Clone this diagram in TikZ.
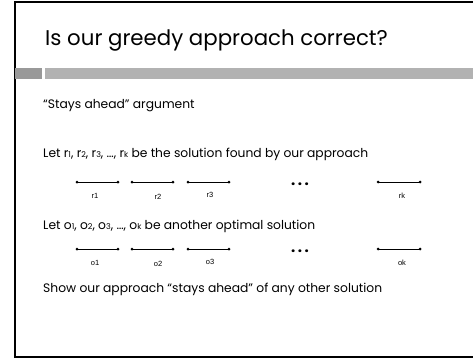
\documentclass[tikz,border=0pt]{standalone}
\usepackage{fontspec}
\setmainfont{Poppins}
\newfontfamily\labfont{Liberation Sans}
\usetikzlibrary{positioning}

\definecolor{bardark}{HTML}{999999}
\definecolor{barlight}{HTML}{B2B2B2}
\newcommand{\sm}[1]{{\fontsize{8}{8}\selectfont #1}}

\begin{document}
\begin{tikzpicture}[
      x=1pt, y=-1pt,
      txt/.style={anchor=base west, inner sep=0pt, font=\fontsize{12.3}{14}\selectfont},
      endpt/.style={circle, fill, inner sep=0pt, minimum size=3pt},
      seg/.style={line width=0.6pt},
      slab/.style={font=\labfont\fontsize{7.5}{8}\selectfont, inner sep=0pt},
      dots/.style={font=\bfseries\fontsize{15}{15}\selectfont, inner sep=0pt}]
      \useasboundingbox (0,0) rectangle (473,359);
      % slide frame and title bar
      \draw[line width=2pt] (473,2) -- (15,2) -- (15,357) -- (473,357);
      \fill[bardark] (15,68) rectangle (42,79);
      \fill[barlight] (45,68) rectangle (473,79);
      \node[anchor=base west, inner sep=0pt, font=\fontsize{21.3}{24}\selectfont]
        (title) at (45,45) {Is our greedy approach correct?};
      % text lines
      \node[txt] (stays) at (43,108) {“Stays ahead” argument};
      \node[txt] (letr) at (43,157) {Let r\sm{1}, r\sm{2}, r\sm{3}, …, r\sm{k} be the solution found by our approach};
      \node[txt] (leto) at (43,229) {Let o\sm{1}, o\sm{2}, o\sm{3}, …, o\sm{k} be another optimal solution};
      \node[txt] (show) at (43,292) {Show our approach “stays ahead” of any other solution};
      % the two rows of intervals
      \foreach \row/\y/\ly in {r/182/196, o/249/263} {
        \node[endpt] (\row1a) at (77,\y) {};  \node[endpt] (\row1b) at (118,\y) {};
        \node[endpt] (\row2a) at (132,\y) {}; \node[endpt] (\row2b) at (173,\y) {};
        \node[endpt] (\row3a) at (188,\y) {}; \node[endpt] (\row3b) at (229,\y) {};
        \node[endpt] (\row ka) at (378,\y) {}; \node[endpt] (\row kb) at (420,\y) {};
        \draw[seg] (\row1a.center) -- (\row1b.center);
        \draw[seg] (\row2a.center) -- (\row2b.center);
        \draw[seg] (\row3a.center) -- (\row3b.center);
        \draw[seg] (\row ka.center) -- (\row kb.center);
        \node[slab] (\row1l) at (95,\ly) {\row1};
        \node[slab] (\row2l) at (158,\ly+1) {\row2};
        \node[slab] (\row3l) at (210,\ly-1) {\row3};
        \node[slab] (\row kl) at (402,\ly) {\row k};
        \node[dots] (\row dots) at (300,\y+2) {.\,.\,.};
      }
    \end{tikzpicture}
\end{document}
